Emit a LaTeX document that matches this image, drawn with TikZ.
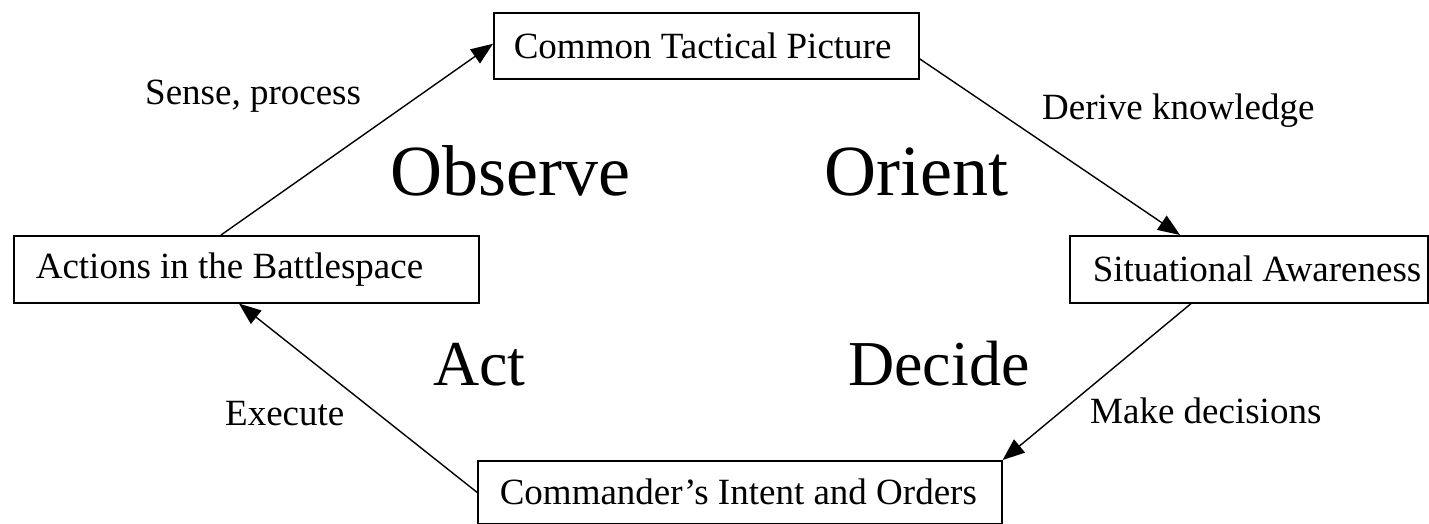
\documentclass[tikz,border=0pt]{standalone}
\usepackage{fontspec}
\setmainfont{Liberation Serif}
\usetikzlibrary{arrows.meta}
\begin{document}
\begin{tikzpicture}[x=1pt,y=-1pt,
  boxnode/.style={draw, line width=1.6pt, rectangle, anchor=north west, align=flush left,
    inner xsep=4pt, inner ysep=0pt, font=\fontsize{37}{40}\selectfont},
  small/.style={anchor=base west, inner sep=0pt, font=\fontsize{37}{40}\selectfont},
  big/.style={anchor=base west, inner sep=0pt, font=\fontsize{72}{76}\selectfont},
  mid/.style={anchor=base west, inner sep=0pt, font=\fontsize{64}{68}\selectfont},
  arr/.style={line width=1.4pt, -{Triangle[length=22pt,width=17pt]}}]
\useasboundingbox (0,0) rectangle (1429,524);
\node[boxnode, text width=417pt, minimum height=66pt] (ctp) at (493,12) {\hspace*{16pt}Common Tactical Picture};
\node[boxnode, text width=457pt, minimum height=67pt] (act) at (13,235) {\hspace*{18pt}Actions in the Battlespace};
\node[boxnode, text width=350pt, minimum height=67pt] (sa) at (1069,235) {\hspace*{19pt}Situational Awareness};
\node[boxnode, text width=516pt, minimum height=63pt] (cmd) at (477,460) {\hspace*{18pt}Commander’s Intent and Orders};
\node[small] (l1) at (145,105) {Sense, process};
\node[small] (l2) at (1042,120) {Derive knowledge};
\node[small] (l3) at (1090,423) {Make decisions};
\node[small] (l4) at (225,425) {Execute};
\node[big] (observe) at (390,195) {Observe};
\node[big] (orient) at (824,195) {Orient};
\node[mid] (actl) at (433,385) {Act};
\node[mid] (decide) at (848,385) {Decide};
\draw[arr] ([xshift=208pt]act.north west) -- ([yshift=2pt]ctp.west);
\draw[arr] ([yshift=-13pt]ctp.east) -- ([xshift=111pt]sa.north west);
\draw[arr] ([xshift=122pt]sa.south west) -- (cmd.north east);
\draw[arr] (cmd.west) -- ([xshift=226pt]act.south west);
\end{tikzpicture}
\end{document}
